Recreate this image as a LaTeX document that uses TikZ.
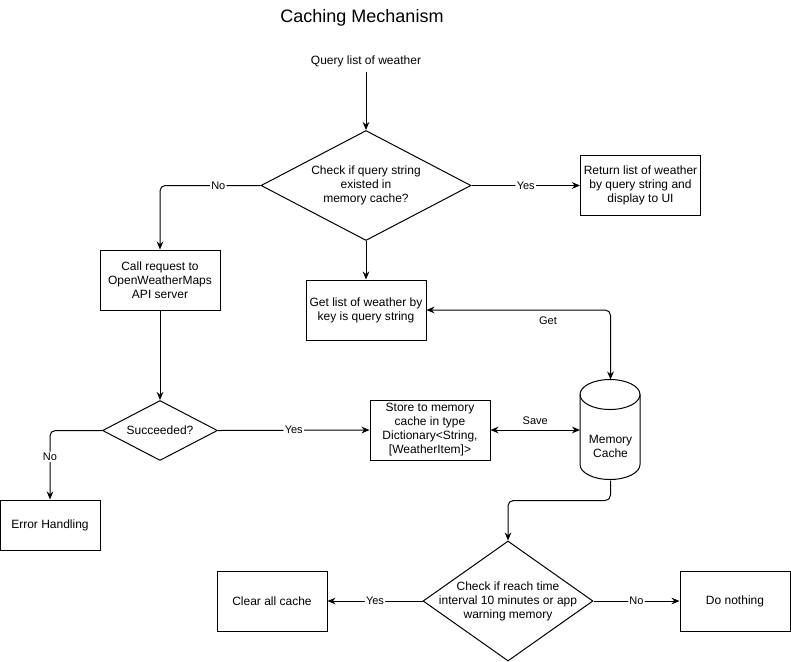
\documentclass[tikz,border=0pt]{standalone}
\usepackage{fontspec}
\setmainfont{Liberation Sans}
\usetikzlibrary{arrows.meta,shapes.geometric}

\begin{document}
\begin{tikzpicture}[x=0.75pt, y=-0.75pt, line width=0.75pt,
	font=\fontsize{9}{10.5}\selectfont,
	box/.style={draw, rectangle, align=center, inner sep=2pt, minimum width=90pt, minimum height=45pt},
	decision/.style={draw, diamond, inner sep=0pt},
	flow/.style={-{Stealth[length=6pt, width=5pt]}, rounded corners=4pt},
	twoway/.style={{Stealth[length=6pt, width=5pt]}-{Stealth[length=6pt, width=5pt]}, rounded corners=4pt},
	lbl/.style={fill=white, inner sep=1pt, font=\fontsize{8.25}{9.5}\selectfont},
	side/.style={inner sep=1pt, font=\fontsize{8.25}{9.5}\selectfont}]
				\useasboundingbox (0,0) rectangle (791,661);
				\node[font=\fontsize{13.5}{16}\selectfont] (title)at(362, 18) {Caching Mechanism};
				\node (query)at(366, 61) {Query list of weather};
				\node[decision, minimum width=157.5pt, minimum height=82.5pt, label={[align=center]center:{Check if query string\\existed in\\memory cache?}}] (qcheck)at(366, 185.5) {};
				\node[box] (result)at(640.5, 185.5) {Return list of weather\\by query string and\\display to UI};
				\node[box] (callapi)at(160, 280) {Call request to\\OpenWeatherMaps\\API server};
				\node[box] (getlist)at(366, 310) {Get list of weather by\\key is query string};
				\node[decision, minimum width=86.25pt, minimum height=45pt, label=center:{Succeeded?}] (succ)at(160, 430.5) {};
				\node[box] (store)at(430, 430) {Store to memory\\cache in type\\Dictionary<String,\\{[WeatherItem]>}};
				\node[minimum width=45pt, minimum height=75pt, inner sep=0pt, label={[align=center, yshift=-12pt]center:{Memory\\Cache}}] (mcache)at(610.5, 430) {};
				\node[box, minimum width=75pt, minimum height=37.5pt] (errh)at(50, 525) {Error Handling};
				\node[decision, minimum width=127.5pt, minimum height=90pt, label={[align=center]center:{Check if reach time\\interval 10 minutes or app\\warning memory}}] (timecheck)at(508, 601) {};
				\node[box, minimum width=82.5pt] (clear)at(272, 601) {Clear all cache};
				\node[box, minimum width=82.5pt] (nothing)at(735, 601) {Do nothing};
				\draw (mcache.north west) ++(0,15) arc (180:360:30 and 15) -- ++(0,70) arc (0:180:30 and 15) -- cycle;
				\draw (mcache.north west) ++(0,15) arc (180:0:30 and 15);
				\draw[flow] (query) -- (qcheck.north);
				\draw[flow] (qcheck.west) -| node[lbl, pos=0.21] {No} (callapi.north);
				\draw[flow] (qcheck.east) -- node[lbl] {Yes} (result.west);
				\draw[flow] (qcheck.south) -- (getlist.north);
				\draw[twoway] (getlist.east) -| node[side, pos=0.33, below=4pt] {Get} (mcache.north);
				\draw[flow] (callapi.south) -- (succ.north);
				\draw[flow] (succ.east) -- node[lbl] {Yes} (store.west);
				\draw[flow] (succ.west) -| node[lbl, pos=0.69] {No} (errh.north);
				\draw[twoway] (store.east) -- node[side, above=3pt] {Save} (mcache.west);
				\draw[flow] (mcache.south) -- ++(0,20) -| (timecheck.north);
				\draw[flow] (timecheck.west) -- node[lbl] {Yes} (clear.east);
				\draw[flow] (timecheck.east) -- node[lbl] {No} (nothing.west);
			\end{tikzpicture}
\end{document}
